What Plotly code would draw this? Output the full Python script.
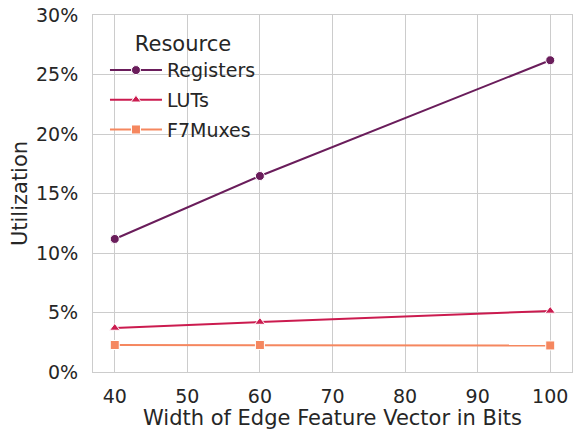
import plotly.graph_objects as go

bits = [40, 60, 100]
registers = [0.1118, 0.1647, 0.2620]
luts = [0.0370, 0.0420, 0.0513]
f7muxes = [0.0227, 0.0227, 0.0223]

series = [
    ("Registers", registers, "#6a1d5b", "circle"),
    ("LUTs", luts, "#cb1b4f", "triangle-up"),
    ("F7Muxes", f7muxes, "#f5875f", "square"),
]

fig = go.Figure()
for name, vals, color, sym in series:
    fig.add_trace(go.Scatter(
        x=bits, y=vals, name=name, mode="lines+markers", legendgroup=name,
        line=dict(color=color, width=2),
        marker=dict(symbol=sym, size=9, color=color, line=dict(color="white", width=1)),
    ))

font_color = "#262626"
fig.update_layout(
    width=576, height=430,
    margin=dict(l=93, r=4, t=15, b=58),
    paper_bgcolor="white", plot_bgcolor="white",
    font=dict(family="DejaVu Sans", size=19, color=font_color),
    legend=dict(
        title=dict(text="Resource", side="top center", font=dict(size=21)),
        x=0.025, y=0.975, xanchor="left", yanchor="top",
        bgcolor="rgba(0,0,0,0)", font=dict(size=19),
        tracegroupgap=2, itemwidth=52,
    ),
    xaxis=dict(
        range=[37, 103], tickvals=[40, 50, 60, 70, 80, 90, 100],
        showgrid=True, gridcolor="#cccccc", gridwidth=1,
        showline=True, linecolor="#cccccc", linewidth=1, mirror=True,
        ticks="outside", ticklen=7, tickcolor="rgba(0,0,0,0)",
        zeroline=False, automargin=False, ticklabeloverflow="allow",
        title=dict(text="Width of Edge Feature Vector in Bits", font=dict(size=21), standoff=6),
        tickfont=dict(size=19),
    ),
    yaxis=dict(
        range=[0, 0.30], tickvals=[0, 0.05, 0.10, 0.15, 0.20, 0.25, 0.30],
        tickformat=".0%",
        showgrid=True, gridcolor="#cccccc", gridwidth=1,
        showline=True, linecolor="#cccccc", linewidth=1, mirror=True,
        ticks="outside", ticklen=10, tickcolor="rgba(0,0,0,0)",
        zeroline=False, automargin=False, ticklabeloverflow="allow",
        title=dict(text="Utilization", font=dict(size=21), standoff=2),
        tickfont=dict(size=19),
    ),
)

# remove the page's default 8px body margin so the figure fills the window exactly
fig.write_html(
    "out.html",
    config={"displayModeBar": False},
    post_script="document.body.style.margin='0';",
)
